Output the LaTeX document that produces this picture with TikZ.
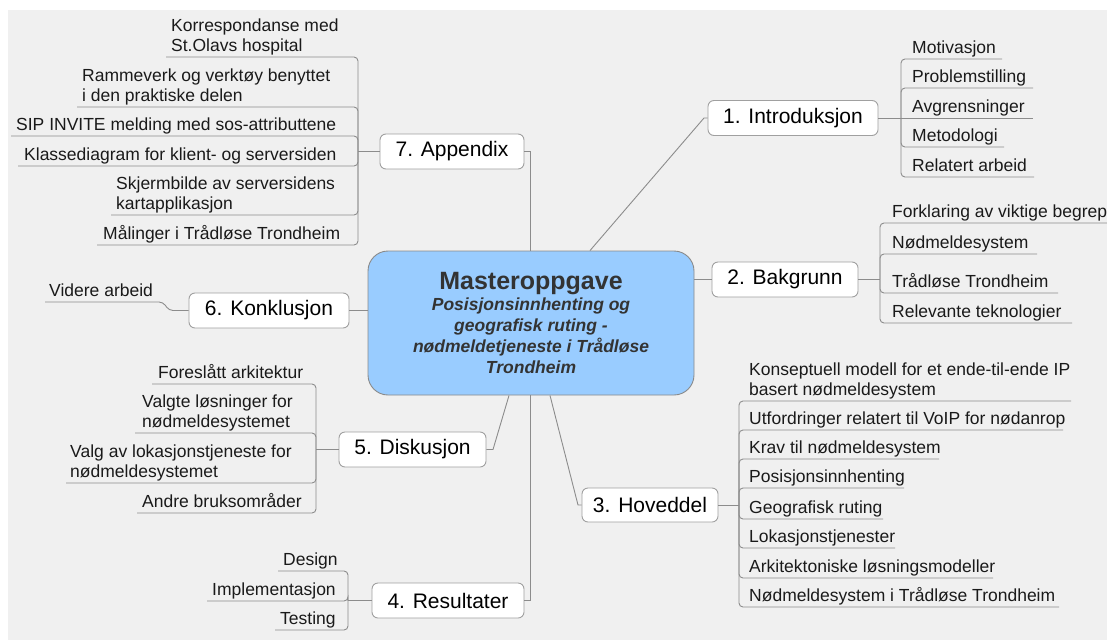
\documentclass[tikz,border=0pt]{standalone}
\usepackage{fontspec}
\setmainfont{Liberation Sans}

\definecolor{bgc}{HTML}{F0F0F0}
\definecolor{linec}{HTML}{8C8C8C}
\definecolor{boxline}{HTML}{A0A0A0}
\definecolor{centerfill}{HTML}{99CCFF}
\definecolor{centerline}{HTML}{8A8A8A}
\definecolor{titletext}{HTML}{333333}
\definecolor{leaftext}{HTML}{1A1A1A}

\newcommand{\leaffont}{\fontsize{17.5}{20.5}\selectfont}
\newcommand{\branchfont}{\fontsize{21}{25}\selectfont}

\begin{document}
\begin{tikzpicture}[x=1pt,y=-1pt,
  branchbox/.style={draw=boxline, fill=white, rounded corners=6pt, line width=0.9pt,
    font=\branchfont, text=black, inner sep=0pt, minimum height=35pt},
  leaf/.style={inner sep=0pt, text depth=5pt, font=\leaffont, text=leaftext, anchor=south west},
  multileaf/.style={leaf, align=left},
  conn/.style={draw=linec, line width=0.9pt},
  bracket/.style={conn, rounded corners=4pt}]

% page and background
\useasboundingbox (0,0) rectangle (1107,640);
\fill[bgc] (8,10) rectangle (1107,640);

% central topic
\node[draw=centerline, fill=centerfill, rounded corners=20pt, line width=0.9pt,
      minimum width=326pt, minimum height=144pt, inner sep=0pt, align=center,
      text=titletext, font=\fontsize{17.5}{21}\selectfont\bfseries\itshape] (ctr) at (531,323)
  {{\fontsize{25}{28}\selectfont\upshape Masteroppgave}\\
   Posisjonsinnhenting og\\
   geografisk ruting -\\
   nødmeldetjeneste i Trådløse\\
   Trondheim};

% main branches
\node[branchbox, minimum width=170pt] (b1) at (793,118) {1. Introduksjon};
\node[branchbox, minimum width=146pt] (b2) at (785,279.5) {2. Bakgrunn};
\node[branchbox, minimum width=136pt, minimum height=34pt] (b3) at (650,505) {3. Hoveddel};
\node[branchbox, minimum width=152pt] (b4) at (448,600.5) {4. Resultater};
\node[branchbox, minimum width=147pt] (b5) at (412.5,449.5) {5. Diskusjon};
\node[branchbox, minimum width=160pt] (b6) at (269,310.5) {6. Konklusjon};
\node[branchbox, minimum width=144pt] (b7) at (452,151.5) {7. Appendix};

% connectors from the central topic
\coordinate (k1) at (704,118);
\coordinate (k3) at (578,505);
\coordinate (k5) at (493,449.5);
\draw[conn] ([xshift=59pt]ctr.north) -- (k1) -- (b1.west);
\draw[conn] (b2.west -| ctr.east) -- (b2.west);
\draw[conn] ([xshift=19pt]ctr.south) -- (k3) -- (b3.west);
\draw[conn] ([xshift=-1pt]ctr.south) |- (b4.east);
\draw[conn] ([xshift=-22pt]ctr.south) -- (k5) -- (b5.east);
\draw[conn] (b6.east -| ctr.west) -- (b6.east);
\draw[conn] ([xshift=-1pt]ctr.north) |- (b7.east);

% junctions of the leaf brackets
\coordinate (j1) at (901,118);
\coordinate (j2) at (880,279.5);
\coordinate (j3) at (739,505);
\coordinate (j4) at (348,600.5);
\coordinate (j5) at (316,449.5);
\coordinate (j7) at (358,151.5);

% 1. Introduksjon
\node[leaf] (l11) at (912,59)  {Motivasjon};
\node[leaf] (l12) at (912,88)  {Problemstilling};
\node[leaf] (l13) at (912,118) {Avgrensninger};
\node[leaf] (l14) at (912,147) {Metodologi};
\node[leaf] (l15) at (912,177) {Relatert arbeid};
\draw[conn] (b1.east) -- (j1);
\draw[bracket] (j1) |- ([xshift=90pt]l11.south west);
\draw[bracket] (j1) |- ([xshift=121pt]l12.south west);
\draw[bracket] (j1) -- ([xshift=121pt]l13.south west);
\draw[bracket] (j1) |- ([xshift=92pt]l14.south west);
\draw[bracket] (j1) |- ([xshift=122pt]l15.south west);

% 2. Bakgrunn
\node[leaf] (l21) at (892,223) {Forklaring av viktige begrep};
\node[leaf] (l22) at (892,254) {Nødmeldesystem};
\node[leaf] (l23) at (892,293) {Trådløse Trondheim};
\node[leaf] (l24) at (892,323) {Relevante teknologier};
\draw[conn] (b2.east) -- (j2);
\draw[bracket] (j2) |- ([xshift=220pt]l21.south west);
\draw[bracket] (j2) |- ([xshift=145pt]l22.south west);
\draw[bracket] (j2) |- ([xshift=166pt]l23.south west);
\draw[bracket] (j2) |- ([xshift=180pt]l24.south west);

% 3. Hoveddel
\node[multileaf] (l31) at (749,401) {Konseptuell modell for et ende-til-ende IP\\basert nødmeldesystem};
\node[leaf] (l32) at (749,430) {Utfordringer relatert til VoIP for nødanrop};
\node[leaf] (l33) at (749,459) {Krav til nødmeldesystem};
\node[leaf] (l34) at (749,488) {Posisjonsinnhenting};
\node[leaf] (l35) at (749,519) {Geografisk ruting};
\node[leaf] (l36) at (749,548) {Lokasjonstjenester};
\node[leaf] (l37) at (749,578) {Arkitektoniske løsningsmodeller};
\node[leaf] (l38) at (749,607) {Nødmeldesystem i Trådløse Trondheim};
\draw[conn] (b3.east) -- (j3);
\draw[bracket] (j3) |- ([xshift=322pt]l31.south west);
\draw[bracket] (j3) |- ([xshift=314pt]l32.south west);
\draw[bracket] (j3) |- ([xshift=190pt]l33.south west);
\draw[bracket] (j3) |- ([xshift=155pt]l34.south west);
\draw[bracket] (j3) |- ([xshift=134pt]l35.south west);
\draw[bracket] (j3) |- ([xshift=146pt]l36.south west);
\draw[bracket] (j3) |- ([xshift=244pt]l37.south west);
\draw[bracket] (j3) |- ([xshift=310pt]l38.south west);

% 4. Resultater
\node[leaf] (l41) at (283,571) {Design};
\node[leaf] (l42) at (212,601) {Implementasjon};
\node[leaf] (l43) at (280,630) {Testing};
\draw[conn] (b4.west) -- (j4);
\draw[bracket] (j4) |- ([xshift=-5pt]l41.south west);
\draw[bracket] (j4) |- ([xshift=-5pt]l42.south west);
\draw[bracket] (j4) |- ([xshift=-5pt]l43.south west);

% 5. Diskusjon
\node[leaf] (l51) at (158,384) {Foreslått arkitektur};
\node[multileaf] (l52) at (142,433) {Valgte løsninger for\\nødmeldesystemet};
\node[multileaf] (l53) at (70,483) {Valg av lokasjonstjeneste for\\nødmeldesystemet};
\node[leaf] (l54) at (142,513) {Andre bruksområder};
\draw[conn] (b5.west) -- (j5);
\draw[bracket] (j5) |- ([xshift=-6pt]l51.south west);
\draw[bracket] (j5) |- ([xshift=-7pt]l52.south west);
\draw[bracket] (j5) |- ([xshift=-4pt]l53.south west);
\draw[bracket] (j5) |- ([xshift=-5pt]l54.south west);

% 6. Konklusjon
\node[leaf] (l61) at (49,302) {Videre arbeid};
\draw[conn, rounded corners=4pt] (b6.west) -- (169,310.5) -- (163,302) -- ([xshift=-4pt]l61.south west);

% 7. Appendix
\node[multileaf] (l71) at (171,57)  {Korrespondanse med\\St.Olavs hospital};
\node[multileaf] (l72) at (82,107)  {Rammeverk og verktøy benyttet\\i den praktiske delen};
\node[leaf]      (l73) at (16,136)  {SIP INVITE melding med sos-attributtene};
\node[leaf]      (l74) at (24,166)  {Klassediagram for klient- og serversiden};
\node[multileaf] (l75) at (116,215) {Skjermbilde av serversidens\\kartapplikasjon};
\node[leaf]      (l76) at (103,245) {Målinger i Trådløse Trondheim};
\draw[conn] (b7.west) -- (j7);
\draw[bracket] (j7) |- ([xshift=-5pt]l71.south west);
\draw[bracket] (j7) |- ([xshift=-5pt]l72.south west);
\draw[bracket] (j7) |- ([xshift=-5pt]l73.south west);
\draw[bracket] (j7) |- ([xshift=-6pt]l74.south west);
\draw[bracket] (j7) |- ([xshift=-5pt]l75.south west);
\draw[bracket] (j7) |- ([xshift=-6pt]l76.south west);

\end{tikzpicture}
\end{document}
